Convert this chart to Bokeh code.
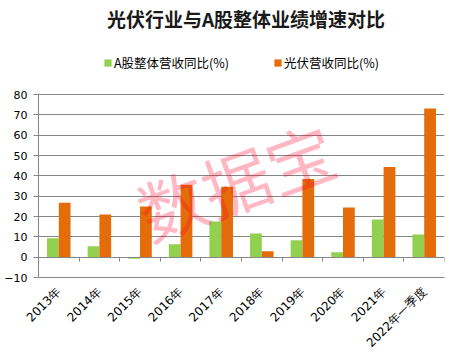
import numpy as np
from bokeh.plotting import figure
from bokeh.models import (ColumnDataSource, FixedTicker, LinearAxis, Legend, LegendItem,
                          Label, Range1d)
from bokeh.transform import dodge
from bokeh.embed import file_html
from bokeh.resources import INLINE

categories = ["2013年", "2014年", "2015年", "2016年", "2017年", "2018年",
              "2019年", "2020年", "2021年", "2022年一季度"]
a_share = [9.3, 5.4, -0.8, 6.3, 17.6, 11.7, 8.3, 2.4, 18.5, 11.2]
pv = [26.8, 21.0, 24.9, 35.6, 34.6, 2.9, 38.5, 24.4, 44.4, 73.2]
y_ticks = [-10, 0, 10, 20, 30, 40, 50, 60, 70, 80]

title_text = "光伏行业与A股整体业绩增速对比"
legend_a = "A股整体营收同比(%)"
legend_pv = "光伏营收同比(%)"
watermark = "数据宝"

GREEN = "#92D050"
ORANGE = "#E46C0A"
GRID = "#868686"

n = len(categories)
xc = np.arange(n) + 0.5
src = ColumnDataSource(dict(x=xc, a=a_share, pv=pv, cat=categories))

p = figure(width=458, height=357, output_backend="svg", toolbar_location=None,
           title=None,
           x_range=Range1d(0, n), y_range=Range1d(-10, 126.3),
           x_axis_location=None, y_axis_location=None,
           min_border_left=38, min_border_right=14, min_border_top=0, min_border_bottom=77)
p.outline_line_color = None
p.background_fill_color = "white"
p.border_fill_color = "white"

# grid
p.xgrid.visible = False
p.ygrid.ticker = FixedTicker(ticks=y_ticks)
p.ygrid.grid_line_color = GRID
p.ygrid.grid_line_width = 1
p.ygrid.bounds = (0, n)

# y axis
yaxis = LinearAxis(ticker=FixedTicker(ticks=y_ticks), bounds=(-10, 80))
yaxis.axis_line_color = GRID
yaxis.major_tick_line_color = GRID
yaxis.major_tick_out = 5
yaxis.major_tick_in = 0
yaxis.minor_tick_line_color = None
yaxis.major_label_text_font = "DejaVu Sans"
yaxis.major_label_text_font_size = "11px"
yaxis.major_label_text_color = "black"
yaxis.major_label_standoff = 6
p.add_layout(yaxis, "left")

# bottom axis (labels), line at -10
xaxis = LinearAxis(ticker=FixedTicker(ticks=list(xc)))
xaxis.major_label_overrides = {float(x): c for x, c in zip(xc, categories)}
xaxis.axis_line_color = GRID
xaxis.major_tick_line_color = None
xaxis.minor_tick_line_color = None
xaxis.major_label_orientation = np.pi / 4
xaxis.major_label_text_font = "DejaVu Sans"
xaxis.major_label_text_font_size = "12px"
xaxis.major_label_text_color = "black"
xaxis.major_label_standoff = 6
p.add_layout(xaxis, "below")

# zero axis with boundary ticks
zaxis = LinearAxis(ticker=FixedTicker(ticks=list(range(n + 1))), fixed_location=0)
zaxis.major_label_text_font_size = "0px"
zaxis.major_label_text_alpha = 0
zaxis.axis_line_color = GRID
zaxis.major_tick_line_color = GRID
zaxis.major_tick_out = 4
zaxis.major_tick_in = 0
zaxis.minor_tick_line_color = None
zaxis.major_label_standoff = 0
p.add_layout(zaxis, "below")

w = 0.29
r1 = p.vbar(x=dodge("x", -w / 2), top="a", bottom=0, width=w, source=src,
            fill_color=GREEN, line_color=None)
r2 = p.vbar(x=dodge("x", w / 2), top="pv", bottom=0, width=w, source=src,
            fill_color=ORANGE, line_color=None)

legend = Legend(items=[LegendItem(label=legend_a, renderers=[r1]),
                       LegendItem(label=legend_pv, renderers=[r2])],
                orientation="horizontal", location=(65, 205))
legend.glyph_width = 9
legend.glyph_height = 9
legend.label_height = 9
legend.label_standoff = 2
legend.spacing = 44
legend.padding = 0
legend.margin = 0
legend.border_line_color = None
legend.background_fill_alpha = 0
legend.label_text_font = "Noto Sans CJK SC"
legend.label_text_font_size = "12.5px"
legend.label_text_color = "black"
p.add_layout(legend, "center")

p.add_layout(Label(x=5.11, y=117.6, text=title_text, text_font="Noto Sans CJK SC",
                   text_font_size="19px", text_font_style="bold", text_color="#1a1a1a",
                   text_align="center", text_baseline="middle"))

p.add_layout(Label(x=4.85, y=38.0, text=watermark, text_font="Noto Sans CJK SC",
                   text_font_size="68px", text_color="#FF0028", text_alpha=0.28,
                   angle=20, angle_units="deg",
                   text_align="center", text_baseline="middle"))

open("out.html", "w").write(file_html(p, INLINE))
